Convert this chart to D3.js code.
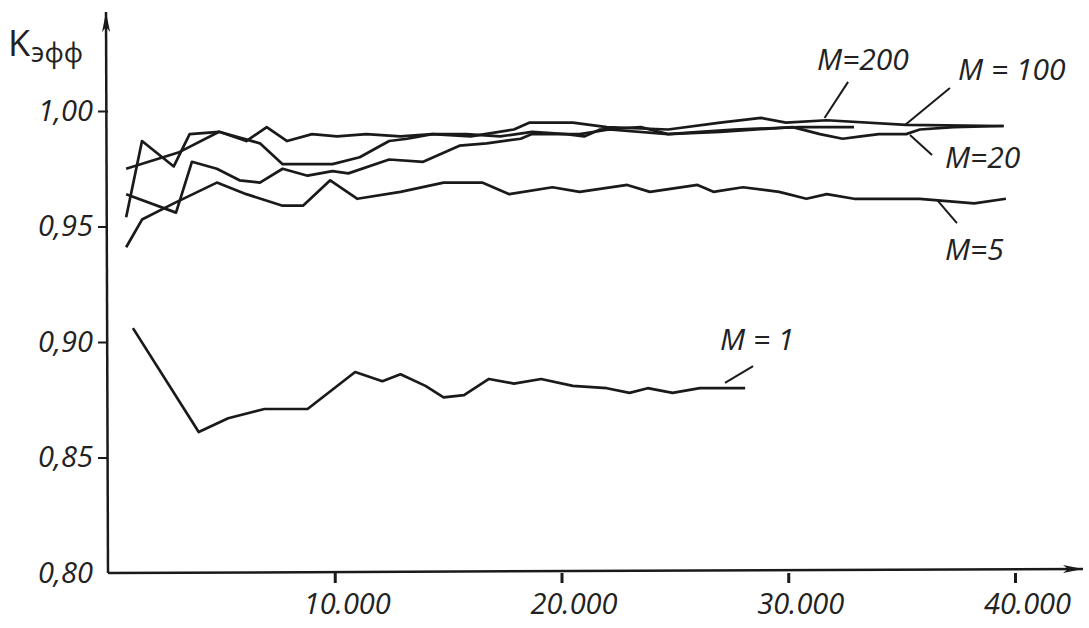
<!DOCTYPE html>
<html>
<head>
<meta charset="utf-8">
<script src="https://cdn.jsdelivr.net/npm/d3@7"></script>
<style>
  body { margin: 0; background: #fff; }
  svg text { font-family: "Open Sans", "DejaVu Sans", sans-serif; fill: #222; }
</style>
</head>
<body>
<svg id="chart" width="1089" height="628"></svg>
<script>
// Values: [iterations, K_eff]
var m1 = [[1100,0.906],[4000,0.861],[5300,0.867],[6900,0.871],[8800,0.871],[10900,0.887],[12100,0.883],
  [12900,0.886],[14000,0.881],[14800,0.876],[15700,0.877],[16800,0.884],[17900,0.882],[19100,0.884],
  [20500,0.881],[22000,0.880],[23000,0.878],[23800,0.880],[24900,0.878],[26100,0.880],[28100,0.880]];

var m5 = [[800,0.941],[1500,0.953],[2900,0.960],[4800,0.969],[6100,0.964],[7700,0.959],[8600,0.959],
  [9800,0.970],[11000,0.962],[12900,0.965],[14800,0.969],[16500,0.969],[17700,0.964],[19600,0.967],
  [20800,0.965],[22900,0.968],[23900,0.965],[26000,0.968],[26700,0.965],[28000,0.967],[29600,0.965],
  [30800,0.962],[31700,0.964],[32900,0.962],[35800,0.962],[37000,0.961],[38200,0.960],[39600,0.962]];

var m20 = [[800,0.964],[3000,0.956],[3700,0.978],[4800,0.975],[5800,0.970],[6700,0.969],[7700,0.975],
  [8800,0.972],[9900,0.974],[10600,0.973],[12400,0.979],[13900,0.978],[15500,0.985],[16700,0.986],
  [18200,0.988],[18700,0.990],[20800,0.990],[22100,0.992],[24700,0.990],[27000,0.991],[30200,0.993],
  [31400,0.990],[32400,0.988],[33200,0.989],[34000,0.990],[35200,0.990],[35800,0.992],[37300,0.993],[39500,0.9935]];

var m100 = [[800,0.954],[1500,0.987],[2900,0.976],[3600,0.990],[4900,0.991],[6100,0.987],[7000,0.993],
  [7900,0.987],[9000,0.990],[10100,0.989],[11400,0.990],[12900,0.989],[14300,0.990],[16000,0.989],
  [17900,0.992],[18600,0.995],[20500,0.995],[22000,0.993],[24700,0.992],[27000,0.995],[28800,0.997],
  [29900,0.995],[31700,0.996],[35200,0.994],[39500,0.9935]];

var m200 = [[800,0.975],[3100,0.982],[4900,0.991],[6700,0.986],[7700,0.977],[9900,0.977],[11100,0.980],
  [12400,0.987],[13200,0.988],[14300,0.990],[15800,0.990],[17300,0.989],[18700,0.991],[20200,0.990],
  [21000,0.989],[21700,0.992],[23500,0.993],[24700,0.990],[26100,0.991],[27600,0.992],[30500,0.993],[32900,0.993]];

var xTicks = [10000, 20000, 30000, 40000];
var yTicks = [0.80, 0.85, 0.90, 0.95, 1.00];

// label, point on the curve, end of leader, text start (data units)
var labels = [
  { text: "M=200",   tip: [31600, 0.9970], tail: [32640, 1.0126], at: [31270, 1.0177] },
  { text: "M = 100", tip: [35150, 0.9939], tail: [37130, 1.0100], at: [37490, 1.0134] },
  { text: "M=20",    tip: [35370, 0.9896], tail: [36340, 0.9810], at: [36910, 0.9753] },
  { text: "M=5",     tip: [36560, 0.9615], tail: [37440, 0.9515], at: [36910, 0.9355] },
  { text: "M = 1",   tip: [27210, 0.8823], tail: [28450, 0.8896], at: [26990, 0.8965] }
];

var svg = d3.select("#chart");

var x = d3.scaleLinear().domain([0, 40000]).range([108, 1015]);
var y = d3.scaleLinear().domain([0.80, 1.00]).range([573, 111]);

var ink = "#1a1a1a";

// arrow heads
var defs = svg.append("defs");
defs.append("marker")
    .attr("id", "arrow")
    .attr("viewBox", "0 -5 20 10")
    .attr("refX", 20).attr("refY", 0)
    .attr("markerWidth", 20).attr("markerHeight", 10)
    .attr("markerUnits", "userSpaceOnUse")
    .attr("orient", "auto")
    .append("path")
    .attr("d", "M0,-4 L20,0 L0,4 L5,0 Z")
    .attr("fill", ink);

// axis lines
svg.append("line")
    .attr("x1", x(0)).attr("y1", y(0.80))
    .attr("x2", x(0) - 2).attr("y2", 12)
    .attr("stroke", ink).attr("stroke-width", 2.5)
    .attr("marker-end", "url(#arrow)");

svg.append("line")
    .attr("x1", x(0)).attr("y1", y(0.80))
    .attr("x2", 1083).attr("y2", y(0.80) - 4)
    .attr("stroke", ink).attr("stroke-width", 2.5)
    .attr("marker-end", "url(#arrow)");

// y axis ticks + labels
var yAxis = svg.append("g")
    .attr("transform", "translate(" + x(0) + ",0)")
    .call(d3.axisLeft(y)
        .tickValues(yTicks)
        .tickSize(10)
        .tickPadding(5)
        .tickFormat(function (d) { return d3.format(".2f")(d).replace(".", ","); }));
yAxis.select(".domain").remove();
yAxis.selectAll(".tick line").attr("stroke", ink).attr("stroke-width", 2)
    .filter(function (d) { return d === 0.80; }).remove();
yAxis.selectAll(".tick text")
    .attr("font-size", 29).attr("font-style", "italic")
    .attr("fill", "#222")
    .style("font-family", "'Open Sans', sans-serif");

// x axis ticks + labels
var xAxis = svg.append("g")
    .attr("transform", "translate(0," + y(0.80) + ")")
    .call(d3.axisBottom(x)
        .tickValues(xTicks)
        .tickSize(10)
        .tickPadding(10)
        .tickFormat(function (d) { return d3.format(",")(d).replace(",", "."); }));
xAxis.select(".domain").remove();
xAxis.selectAll(".tick line").attr("stroke", ink).attr("stroke-width", 3);
xAxis.selectAll(".tick text")
    .attr("font-size", 29).attr("font-style", "italic")
    .attr("dx", 12)
    .attr("fill", "#222")
    .style("font-family", "'Open Sans', sans-serif");

// y axis title
var title = svg.append("text")
    .attr("x", 8).attr("y", 56)
    .style("font-family", "'Open Sans', sans-serif");
title.append("tspan").attr("font-size", 36).text("K");
title.append("tspan").attr("font-size", 27).attr("dy", 6).attr("dx", 1).text("эфф");

// curves
var line = d3.line()
    .x(function (d) { return x(d[0]); })
    .y(function (d) { return y(d[1]); });

[m1, m5, m20, m100, m200].forEach(function (s) {
    svg.append("path")
        .datum(s)
        .attr("d", line)
        .attr("fill", "none")
        .attr("stroke", ink)
        .attr("stroke-width", 2.7)
        .attr("stroke-linejoin", "round");
});

// leaders and labels
var lab = svg.selectAll(".lab")
    .data(labels)
    .enter()
    .append("g")
    .attr("class", "lab");

lab.append("line")
    .attr("x1", function (d) { return x(d.tip[0]); })
    .attr("y1", function (d) { return y(d.tip[1]); })
    .attr("x2", function (d) { return x(d.tail[0]); })
    .attr("y2", function (d) { return y(d.tail[1]); })
    .attr("stroke", ink).attr("stroke-width", 2);

lab.append("text")
    .attr("x", function (d) { return x(d.at[0]); })
    .attr("y", function (d) { return y(d.at[1]); })
    .attr("font-size", 30)
    .attr("font-style", "italic")
    .text(function (d) { return d.text; });
</script>
</body>
</html>
